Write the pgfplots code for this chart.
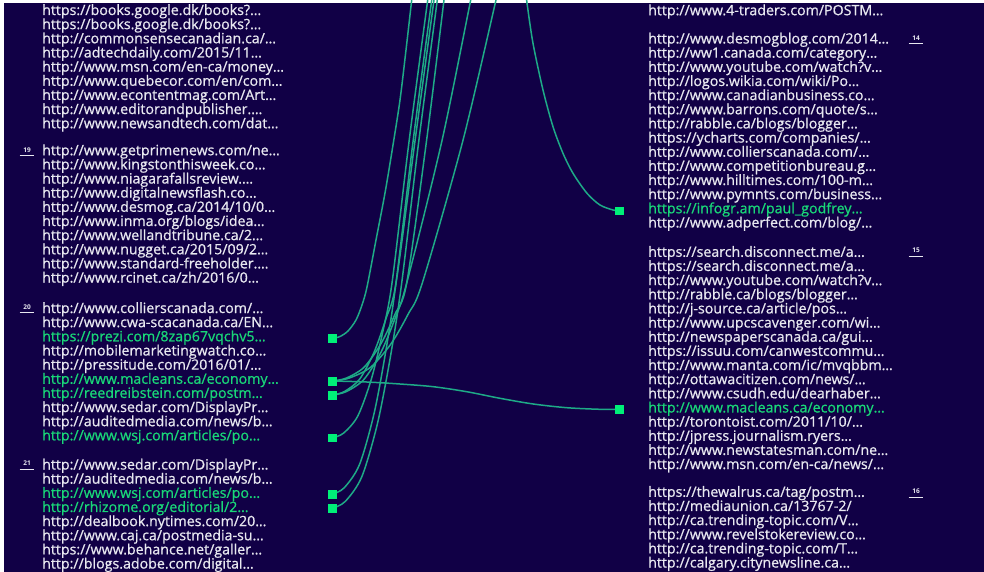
\documentclass[border=0pt]{standalone}
\usepackage{fontspec}
\setmainfont{Open Sans}
\newfontfamily\urlfam{Open Sans}[FakeBold=0.8]
\usepackage{pgfplots}
\pgfplotsset{compat=1.18}
\definecolor{bg}{RGB}{17,0,70}
\definecolor{txt}{RGB}{232,232,240}
\definecolor{gtxt}{RGB}{25,215,120}
\definecolor{mk}{RGB}{0,240,120}
\definecolor{ln}{RGB}{30,170,135}
\newcommand{\urlfont}{\urlfam\fontsize{14.2}{16}\selectfont}
\newcommand{\LeftW}[2]{\node[anchor=west,inner sep=0pt,text height=10pt,text depth=3pt,text=txt,font=\urlfont] at (axis cs:42,#1) {#2};}
\newcommand{\LeftG}[2]{\node[anchor=west,inner sep=0pt,text height=10pt,text depth=3pt,text=gtxt,font=\urlfont] at (axis cs:42,#1) {#2};}
\newcommand{\RightW}[2]{\node[anchor=west,inner sep=0pt,text height=10pt,text depth=3pt,text=txt,font=\urlfont] at (axis cs:648,#1) {#2};}
\newcommand{\RightG}[2]{\node[anchor=west,inner sep=0pt,text height=10pt,text depth=3pt,text=gtxt,font=\urlfont] at (axis cs:648,#1) {#2};}
\newcommand{\GroupNo}[4]{\node[inner sep=0pt,text=txt,font=\fontsize{6.5}{7}\selectfont\bfseries] at (axis cs:#2,#3) {#1};
  \draw[txt,line width=0.8pt] (axis cs:#2-7.5,#4) -- (axis cs:#2+7,#4);}
\begin{document}
\begin{tikzpicture}
\fill[white] (0,0) rectangle (984pt,572pt);
\fill[bg] (4pt,0) rectangle (984pt,569pt);
\begin{axis}[
  scale only axis, width=984pt, height=572pt,
  xmin=0, xmax=984, ymin=0, ymax=572, y dir=reverse,
  hide axis, clip=true,
]
% curves
\addplot[ln, line width=1.5pt, smooth] coordinates {(333,338.3)(340,336.5)(348,331)(356,320)(362,305)(367,287)(376,240)(385,193)(393,145)(400,100)(406,50)(411.7,0)(412.2,-4)};
\addplot[ln, line width=1.5pt, smooth] coordinates {(333,437.7)(343.6,433.1)(357.8,416.0)(371.4,378.9)(382.6,332.5)(392,283)(409.1,141)(427.7,0)(428.3,-4)};
\addplot[ln, line width=1.5pt, smooth] coordinates {(333,494)(344.3,487.7)(359.5,464.5)(374,413.8)(385.9,350.5)(396,283)(413.1,141)(431.7,0)(432.3,-4)};
\addplot[ln, line width=1.5pt, smooth] coordinates {(333,508)(345.4,501.3)(361.9,476.5)(377.7,422.5)(390.7,355)(401.7,283)(418.8,141)(437.3,0)(437.9,-4)};
\addplot[ln, line width=1.5pt, smooth] coordinates {(333,381)(346.3,378.1)(364,367.3)(380.9,343.8)(394.9,314.4)(406.7,283)(426.5,141)(444,0)(444.6,-4)};
\addplot[ln, line width=1.5pt, smooth] coordinates {(333,395)(346.3,391.6)(364,379.3)(380.9,352.4)(394.9,318.8)(406.7,283)(441.9,141)(470.7,0)(471.5,-4)};
\addplot[ln, line width=1.5pt, smooth] coordinates {(333,381)(349.1,378.1)(370.5,367.3)(391,343.8)(408,314.4)(422.3,283)(462.8,141)(496,0)(497,-4)};
\addplot[ln, line width=1.5pt, smooth] coordinates {(333,395)(344.3,391.6)(359.5,379.3)(374,352.4)(385.9,318.8)(396,283)(415,141)(434,0)(434.6,-4)};
\addplot[ln, line width=1.5pt, smooth] coordinates {(618,210.7)(613,210)(600,205)(587,193.3)(573,173.3)(563,153.3)(553,126.7)(543,90)(533,43.3)(527,3)(526.5,-4)};
\addplot[ln, line width=1.5pt, smooth] coordinates {(333,381)(366.7,382)(400,384)(433.3,386.7)(466.7,391.7)(500,398.3)(533.3,404)(566.7,407.7)(600,409.3)(619.3,409.3)};
% markers
\addplot[only marks, mark=square*, mark size=3.8pt, mk] coordinates {(332.3,338.3)(332.3,381)(332.3,395.3)(332.3,437.7)(332.3,494)(332.3,508.3)(619.3,210.7)(619.3,409.3)};
% left column
\LeftW{11.5}{https://books.google.dk/books?…}
\LeftW{25.65}{https://books.google.dk/books?…}
\LeftW{39.8}{http://commonsensecanadian.ca/…}
\LeftW{53.95}{http://adtechdaily.com/2015/11…}
\LeftW{68.1}{http://www.msn.com/en-ca/money…}
\LeftW{82.25}{http://www.quebecor.com/en/com…}
\LeftW{96.4}{http://www.econtentmag.com/Art…}
\LeftW{110.55}{http://www.editorandpublisher.…}
\LeftW{124.7}{http://www.newsandtech.com/dat…}
\GroupNo{19}{27}{150.5}{155.8}
\LeftW{151.7}{http://www.getprimenews.com/ne…}
\LeftW{165.85}{http://www.kingstonthisweek.co…}
\LeftW{180.0}{http://www.niagarafallsreview.…}
\LeftW{194.15}{http://www.digitalnewsflash.co…}
\LeftW{208.3}{http://www.desmog.ca/2014/10/0…}
\LeftW{222.45}{http://www.inma.org/blogs/idea…}
\LeftW{236.6}{http://www.wellandtribune.ca/2…}
\LeftW{250.75}{http://www.nugget.ca/2015/09/2…}
\LeftW{264.9}{http://www.standard-freeholder.…}
\LeftW{279.05}{http://www.rcinet.ca/zh/2016/0…}
\GroupNo{20}{27}{307}{312}
\LeftW{309.5}{http://www.collierscanada.com/…}
\LeftW{323.65}{http://www.cwa-scacanada.ca/EN…}
\LeftG{337.8}{https://prezi.com/8zap67vqchv5…}
\LeftW{351.95}{http://mobilemarketingwatch.co…}
\LeftW{366.1}{http://pressitude.com/2016/01/…}
\LeftG{380.25}{http://www.macleans.ca/economy…}
\LeftG{394.4}{http://reedreibstein.com/postm…}
\LeftW{408.55}{http://www.sedar.com/DisplayPr…}
\LeftW{422.7}{http://auditedmedia.com/news/b…}
\LeftG{436.85}{http://www.wsj.com/articles/po…}
\GroupNo{21}{27}{463.5}{469}
\LeftW{466}{http://www.sedar.com/DisplayPr…}
\LeftW{480.15}{http://auditedmedia.com/news/b…}
\LeftG{494.3}{http://www.wsj.com/articles/po…}
\LeftG{508.45}{http://rhizome.org/editorial/2…}
\LeftW{522.6}{http://dealbook.nytimes.com/20…}
\LeftW{536.75}{http://www.caj.ca/postmedia-su…}
\LeftW{550.9}{https://www.behance.net/galler…}
\LeftW{565.05}{http://blogs.adobe.com/digital…}
% right column
\RightW{11.7}{http://www.4-traders.com/POSTM…}
\GroupNo{14}{916}{38.5}{43.5}
\RightW{40}{http://www.desmogblog.com/2014…}
\RightW{54.15}{http://ww1.canada.com/category…}
\RightW{68.3}{http://www.youtube.com/watch?v…}
\RightW{82.45}{http://logos.wikia.com/wiki/Po…}
\RightW{96.6}{http://www.canadianbusiness.co…}
\RightW{110.75}{http://www.barrons.com/quote/s…}
\RightW{124.9}{http://rabble.ca/blogs/blogger…}
\RightW{139.05}{https://ycharts.com/companies/…}
\RightW{153.2}{http://www.collierscanada.com/…}
\RightW{167.35}{http://www.competitionbureau.g…}
\RightW{181.5}{http://www.hilltimes.com/100-m…}
\RightW{195.65}{http://www.pymnts.com/business…}
\RightG{209.8}{https://infogr.am/paul\_godfrey…}
\RightW{223.95}{http://www.adperfect.com/blog/…}
\GroupNo{15}{916}{250.5}{256}
\RightW{253.3}{https://search.disconnect.me/a…}
\RightW{267.45}{https://search.disconnect.me/a…}
\RightW{281.6}{http://www.youtube.com/watch?v…}
\RightW{295.75}{http://rabble.ca/blogs/blogger…}
\RightW{309.9}{http://j-source.ca/article/pos…}
\RightW{324.05}{http://www.upcscavenger.com/wi…}
\RightW{338.2}{http://newspaperscanada.ca/gui…}
\RightW{352.35}{https://issuu.com/canwestcommu…}
\RightW{366.5}{http://www.manta.com/ic/mvqbbm…}
\RightW{380.65}{http://ottawacitizen.com/news/…}
\RightW{394.8}{http://www.csudh.edu/dearhaber…}
\RightG{408.95}{http://www.macleans.ca/economy…}
\RightW{423.1}{http://torontoist.com/2011/10/…}
\RightW{437.25}{http://jpress.journalism.ryers…}
\RightW{451.4}{http://www.newstatesman.com/ne…}
\RightW{465.55}{http://www.msn.com/en-ca/news/…}
\GroupNo{16}{916}{491}{497}
\RightW{493.3}{https://thewalrus.ca/tag/postm…}
\RightW{507.45}{http://mediaunion.ca/13767-2/}
\RightW{521.6}{http://ca.trending-topic.com/V…}
\RightW{535.75}{http://www.revelstokereview.co…}
\RightW{549.9}{http://ca.trending-topic.com/T…}
\RightW{564.05}{http://calgary.citynewsline.ca…}
\end{axis}
\pgfresetboundingbox
\path (0,0) rectangle (984pt,572pt);
\end{tikzpicture}
\end{document}
